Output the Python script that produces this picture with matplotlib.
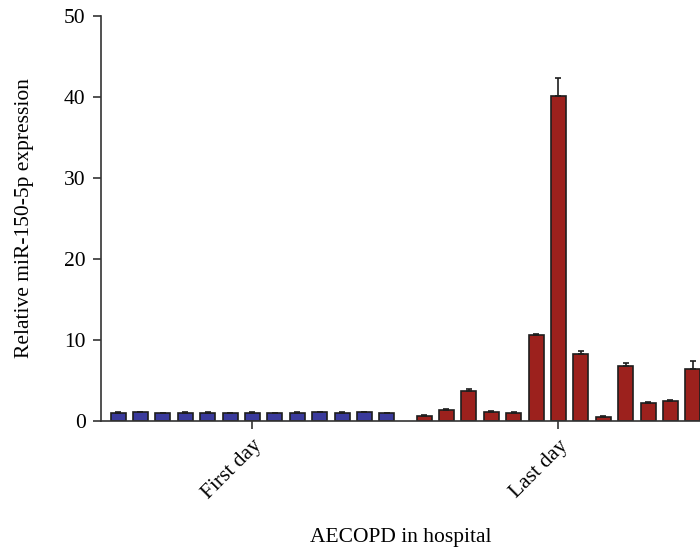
import matplotlib
matplotlib.use('Agg')
import matplotlib.pyplot as plt
import numpy as np

plt.rcParams['font.family'] = ['Liberation Serif', 'DejaVu Serif']

# Values
first_day = [1.0, 1.05, 1.0, 1.0, 1.0, 1.0, 1.0, 1.0, 1.0, 1.05, 1.0, 1.05, 1.0]
first_err = [0.05, 0.08, 0.04, 0.05, 0.05, 0.04, 0.06, 0.04, 0.05, 0.08, 0.05, 0.08, 0.04]
last_day = [0.65, 1.4, 3.7, 1.15, 1.0, 10.6, 40.1, 8.3, 0.55, 6.85, 2.2, 2.5, 6.45]
last_err = [0.05, 0.05, 0.3, 0.05, 0.1, 0.2, 2.2, 0.4, 0.1, 0.35, 0.2, 0.05, 0.95]
group_labels = ['First day', 'Last day']

blue = '#3a3a9c'
red = '#9c211d'

x_first = np.arange(len(first_day))
x_last = np.arange(len(last_day)) + len(first_day) + 0.66

fig = plt.figure(figsize=(7, 5.53), dpi=100)
ax = fig.add_axes([0.1443, 0.2387, 0.8557, 0.7323])

w = 0.67
ax.bar(x_first, first_day, width=w, color=blue, edgecolor='#1e1e1e', linewidth=1.2,
       yerr=[np.zeros(len(first_err)), first_err], capsize=2.5,
       error_kw=dict(ecolor='#1e1e1e', elinewidth=1.2, capthick=1.2))
ax.bar(x_last, last_day, width=w, color=red, edgecolor='#1e1e1e', linewidth=1.2,
       yerr=[np.zeros(len(last_err)), last_err], capsize=2.5,
       error_kw=dict(ecolor='#1e1e1e', elinewidth=1.2, capthick=1.2))

ax.set_ylim(0, 50)
ax.set_yticks([0, 10, 20, 30, 40, 50])
ax.set_xlim(-0.76, x_last[-1] + 0.32)

ax.set_xticks([x_first[6], x_last[6]])
ax.set_xticklabels(group_labels, rotation=45, ha='right', va='top',
                   rotation_mode='anchor', fontsize=15.5)

for side in ['top', 'right']:
    ax.spines[side].set_visible(False)
for side in ['left', 'bottom']:
    ax.spines[side].set_linewidth(1.2)
    ax.spines[side].set_color('#333333')

ax.tick_params(axis='both', direction='out', length=6, width=1.2, color='#333333',
               labelsize=15.5, pad=5)

ax.set_ylabel('Relative miR-150-5p expression', fontsize=15.5, labelpad=22)
ax.set_xlabel('AECOPD in hospital', fontsize=15.5, labelpad=18)

fig.savefig('out.png', dpi=100)
